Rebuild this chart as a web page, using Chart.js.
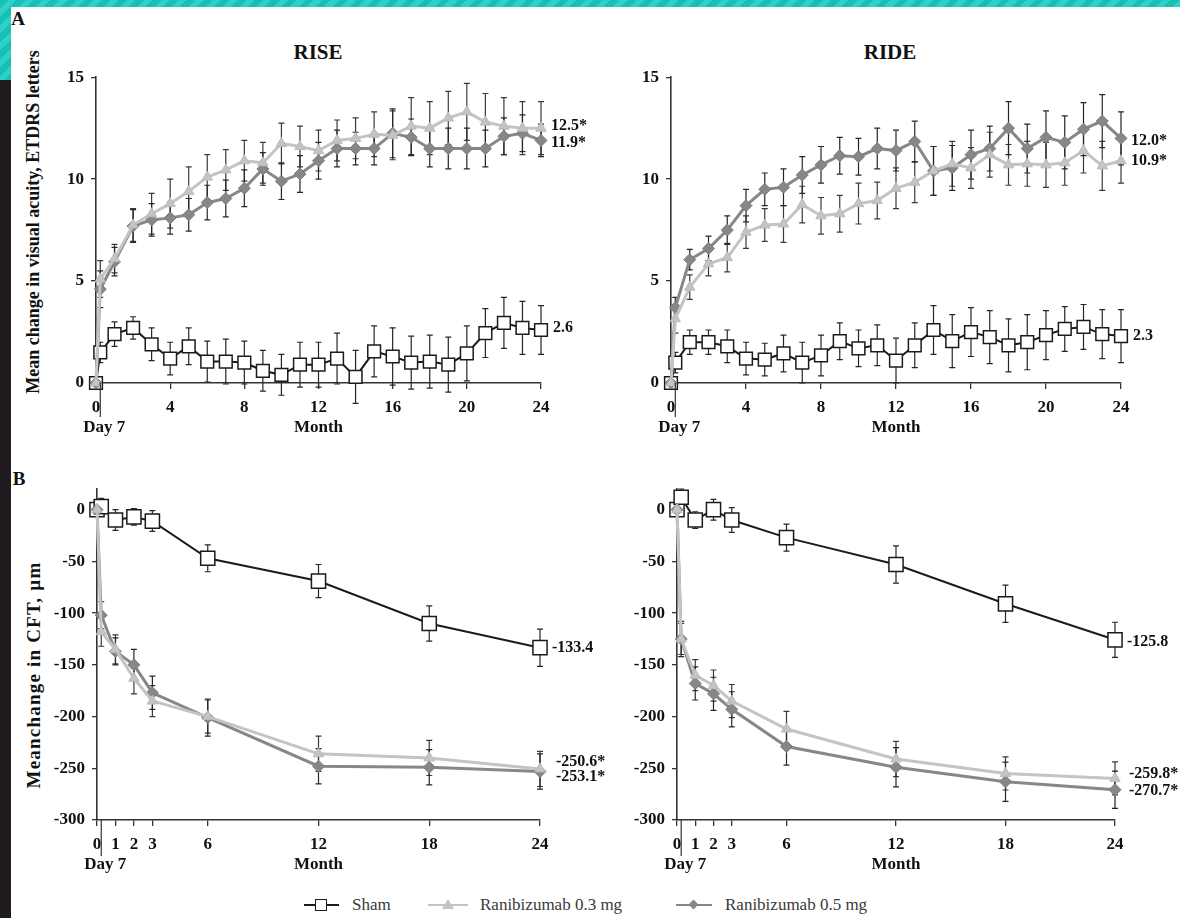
<!DOCTYPE html>
<html><head><meta charset="utf-8">
<script src="https://cdn.jsdelivr.net/npm/chart.js@4.4.1/dist/chart.umd.min.js"></script>
<style>
html,body{margin:0;padding:0;}
body{width:1180px;height:918px;position:relative;overflow:hidden;background:#fff;font-family:"Liberation Serif","DejaVu Serif",serif;}
#topband{position:absolute;left:0;top:0;width:1180px;height:7px;background:repeating-linear-gradient(135deg,#17c0b6 0 6px,#2fd0c7 6px 12px);}
#leftteal{position:absolute;left:0;top:0;width:11px;height:80px;background:repeating-linear-gradient(135deg,#17c0b6 0 6px,#2fd0c7 6px 12px);}
#leftdark{position:absolute;left:0;top:80px;width:11px;height:838px;background:#1f1b1e;}
canvas{position:absolute;}
.t{position:absolute;font-weight:bold;color:#111;white-space:nowrap;transform:translate(-50%,-50%);}
.yt{position:absolute;font-weight:bold;color:#111;white-space:nowrap;transform:translate(-50%,-50%) rotate(-90deg);}
.leg{position:absolute;top:905px;font-size:17px;color:#3a3a3a;transform:translateY(-50%);white-space:nowrap;}
.lline{position:absolute;height:0;}
</style></head>
<body>
<div id="topband"></div><div id="leftteal"></div><div id="leftdark"></div>
<div class="t" style="left:18px;top:19px;font-size:19px;">A</div>
<div class="t" style="left:19px;top:479px;font-size:19px;">B</div>
<div class="t" style="left:318px;top:52px;font-size:21px;">RISE</div>
<div class="t" style="left:890px;top:52px;font-size:21px;">RIDE</div>
<div class="yt" style="left:33px;top:222px;font-size:18px;">Mean change in visual acuity, ETDRS letters</div>
<div class="yt" style="left:34px;top:675px;font-size:19px;letter-spacing:1.2px;">Meanchange in CFT, µm</div>

<canvas id="cA1" width="590" height="380" style="left:40px;top:60px;"></canvas>
<canvas id="cA2" width="580" height="380" style="left:600px;top:60px;"></canvas>
<canvas id="cB1" width="590" height="410" style="left:40px;top:470px;"></canvas>
<canvas id="cB2" width="580" height="410" style="left:600px;top:470px;"></canvas>

<!-- legend -->
<div class="lline" style="left:304px;top:904px;width:35px;border-top:2px solid #1b1b1b;"></div>
<div style="position:absolute;left:315px;top:899px;width:10px;height:10px;border:1.5px solid #1b1b1b;background:#fff;"></div>
<div class="leg" style="left:352px;">Sham</div>
<div class="lline" style="left:428px;top:904px;width:40px;border-top:2.5px solid #c4c4c4;"></div>
<div style="position:absolute;left:442px;top:899px;width:0;height:0;border-left:6px solid transparent;border-right:6px solid transparent;border-bottom:10px solid #c4c4c4;"></div>
<div class="leg" style="left:480px;">Ranibizumab 0.3 mg</div>
<div class="lline" style="left:676px;top:904px;width:36px;border-top:2.5px solid #878787;"></div>
<div style="position:absolute;left:690px;top:901px;width:7px;height:7px;background:#878787;transform:rotate(45deg);"></div>
<div class="leg" style="left:725px;">Ranibizumab 0.5 mg</div>

<script>
// ---------- DATA ----------
const dayX = 0.23; // Day 7 expressed in months
const monthsA = [0, 0.23, 1, 2, 3, 4, 5, 6, 7, 8, 9, 10, 11, 12, 13, 14, 15, 16, 17, 18, 19, 20, 21, 22, 23, 24];
const monthsB = [0, 0.23, 1, 2, 3, 6, 12, 18, 24];
const xTicksA = [0, 4, 8, 12, 16, 20, 24];
const xTicksB = [0, 1, 2, 3, 6, 12, 18, 24];
const yTicksA = [0, 5, 10, 15];
const yTicksB = [0, -50, -100, -150, -200, -250, -300];

// Panel A: mean change in BCVA (letters)
const riseA_sham    = [0, 1.5, 2.4, 2.7, 1.9, 1.2, 1.8, 1.05, 1.05, 1.0, 0.6, 0.4, 0.9, 0.9, 1.2, 0.3, 1.55, 1.3, 1.0, 1.05, 0.9, 1.45, 2.45, 2.95, 2.7, 2.6];
const riseA_sham_se = [0, 0.5, 0.6, 0.55, 0.8, 0.8, 0.9, 1.0, 1.1, 1.05, 1.0, 1.0, 1.1, 1.1, 1.25, 1.3, 1.25, 1.4, 1.3, 1.3, 1.35, 1.35, 1.2, 1.25, 1.3, 1.2];
const riseA_r03     = [0, 5.1, 6.1, 7.75, 8.3, 8.8, 9.4, 10.1, 10.45, 10.9, 10.8, 11.75, 11.6, 11.4, 11.9, 12.0, 12.2, 12.15, 12.6, 12.5, 13.0, 13.3, 12.8, 12.6, 12.5, 12.5];
const riseA_r03_se  = [0, 0.9, 0.7, 0.8, 1.0, 1.2, 1.2, 1.1, 1.0, 1.0, 1.0, 1.0, 1.0, 1.0, 1.0, 1.0, 1.1, 1.2, 1.4, 1.3, 1.3, 1.4, 1.4, 1.4, 1.3, 1.3];
const riseA_r05     = [0, 4.6, 5.95, 7.7, 8.0, 8.1, 8.25, 8.85, 9.05, 9.55, 10.5, 9.9, 10.25, 10.9, 11.5, 11.5, 11.5, 12.25, 12.05, 11.5, 11.5, 11.5, 11.5, 12.1, 12.25, 11.9];
const riseA_r05_se  = [0, 0.9, 0.7, 0.8, 0.8, 0.8, 0.8, 0.85, 0.9, 0.9, 0.8, 0.9, 0.9, 0.9, 0.9, 0.8, 0.8, 1.2, 0.9, 0.9, 1.0, 1.0, 0.9, 0.9, 0.9, 0.8];

const rideA_sham    = [0, 1.0, 2.0, 2.0, 1.8, 1.2, 1.15, 1.45, 1.0, 1.35, 2.05, 1.7, 1.85, 1.1, 1.85, 2.6, 2.05, 2.5, 2.25, 1.85, 2.0, 2.35, 2.65, 2.75, 2.4, 2.3];
const rideA_sham_se = [0, 0.5, 0.6, 0.6, 0.8, 0.8, 0.8, 0.9, 1.0, 1.0, 0.9, 0.9, 1.0, 1.1, 1.1, 1.2, 1.3, 1.2, 1.3, 1.3, 1.35, 1.2, 1.1, 1.1, 1.2, 1.3];
const rideA_r03     = [0, 3.15, 4.7, 5.85, 6.15, 7.4, 7.75, 7.8, 8.75, 8.2, 8.3, 8.8, 8.95, 9.55, 9.85, 10.4, 10.75, 10.55, 11.2, 10.7, 10.75, 10.7, 10.8, 11.4, 10.65, 10.9];
const rideA_r03_se  = [0, 0.7, 0.6, 0.6, 0.7, 0.8, 0.8, 0.9, 0.9, 0.9, 0.9, 1.0, 0.9, 1.0, 1.0, 1.2, 1.1, 1.0, 1.1, 1.0, 1.1, 1.1, 1.1, 1.1, 1.2, 1.1];
const rideA_r05     = [0, 3.7, 6.05, 6.6, 7.5, 8.7, 9.5, 9.6, 10.2, 10.7, 11.15, 11.1, 11.5, 11.4, 11.85, 10.4, 10.55, 11.2, 11.5, 12.5, 11.5, 12.05, 11.8, 12.45, 12.85, 12.0];
const rideA_r05_se  = [0, 0.5, 0.5, 0.6, 0.7, 0.8, 0.8, 0.9, 0.9, 0.9, 0.9, 0.9, 1.0, 1.0, 1.0, 1.2, 1.1, 1.2, 1.1, 1.3, 1.2, 1.3, 1.3, 1.3, 1.3, 1.3];

// Panel B: mean change in CFT (µm)
const riseB_sham    = [0, 3, -10, -7, -11, -47, -69, -110, -133.4];
const riseB_sham_se = [0, 8, 10, 8, 10, 13, 16, 17, 18];
const riseB_r03     = [0, -118, -135, -163, -185, -200, -236, -240, -250.6];
const riseB_r03_se  = [0, 14, 14, 15, 15, 16, 17, 17, 17];
const riseB_r05     = [0, -102, -137, -150, -177, -201, -248, -249, -253.1];
const riseB_r05_se  = [0, 13, 13, 15, 16, 18, 17, 17, 17];

const rideB_sham    = [0, 12, -10, 0, -10, -27, -53, -91, -125.8];
const rideB_sham_se = [0, 8, 8, 10, 12, 13, 18, 18, 17];
const rideB_r03     = [0, -125, -160, -170, -185, -212, -241, -255, -259.8];
const rideB_r03_se  = [0, 15, 15, 15, 16, 17, 17, 16, 16];
const rideB_r05     = [0, -125, -168, -178, -193, -229, -249, -263, -270.7];
const rideB_r05_se  = [0, 17, 16, 16, 17, 18, 19, 19, 18];

// End-of-study labels
const riseA_labels = ['2.6', '12.5*', '11.9*'];
const rideA_labels = ['2.3', '10.9*', '12.0*'];
const riseB_labels = ['-133.4', '-250.6*', '-253.1*'];
const rideB_labels = ['-125.8', '-259.8*', '-270.7*'];
const seriesNames = ['Sham', 'Ranibizumab 0.3 mg', 'Ranibizumab 0.5 mg'];

// ---------- STYLE ----------
const FONT = '"Liberation Serif", "DejaVu Serif", serif';
const STYLE = {
  sham: {line:'#1b1b1b', width:2, point:'rect', radius:9, fill:'#ffffff', pb:'#1b1b1b', pbw:1.5, err:'#262626', order:3},
  r03:  {line:'#c4c4c4', width:3, point:'triangle', radius:6, fill:'#c4c4c4', pb:'#bababa', pbw:1, err:'#3a3a3a', order:1},
  r05:  {line:'#878787', width:3, point:'rectRot', radius:6, fill:'#878787', pb:'#7c7c7c', pbw:1, err:'#262626', order:2}
};

const errPlugin = {
  id: 'errbars',
  beforeDatasetsDraw(chart) {
    const ctx = chart.ctx, ys = chart.scales.y;
    chart.data.datasets.forEach((ds, i) => {
      const meta = chart.getDatasetMeta(i);
      ctx.save();
      ctx.strokeStyle = ds.errColor; ctx.lineWidth = 1.2;
      ds.data.forEach((p, j) => {
        const se = ds.se[j];
        if (!se) return;
        const x = meta.data[j].x;
        const y1 = ys.getPixelForValue(p.y + se), y2 = ys.getPixelForValue(p.y - se);
        ctx.beginPath();
        ctx.moveTo(x, y1); ctx.lineTo(x, y2);
        ctx.moveTo(x - 3, y1); ctx.lineTo(x + 3, y1);
        ctx.moveTo(x - 3, y2); ctx.lineTo(x + 3, y2);
        ctx.stroke();
      });
      ctx.restore();
    });
  },
  afterDraw(chart) {
    const o = chart.options.plugins.extra;
    const ctx = chart.ctx, xs = chart.scales.x, ys = chart.scales.y, ca = chart.chartArea;
    ctx.save();
    // end labels
    ctx.font = 'bold 16px ' + FONT; ctx.fillStyle = '#111'; ctx.textBaseline = 'middle'; ctx.textAlign = 'left';
    chart.data.datasets.forEach((ds, i) => {
      const n = ds.data.length - 1;
      const p = ds.data[n];
      ctx.fillText(ds.endLabel, xs.getPixelForValue(p.x) + ds.labelDx, ys.getPixelForValue(p.y) + ds.labelDy);
    });
    // Day 7 tick and axis captions
    const dx = xs.getPixelForValue(dayX);
    ctx.strokeStyle = '#333'; ctx.lineWidth = 1.2;
    ctx.beginPath(); ctx.moveTo(dx, ca.bottom); ctx.lineTo(dx, ca.bottom + o.dayLine); ctx.stroke();
    ctx.font = 'bold 17px ' + FONT; ctx.textAlign = 'center';
    ctx.fillText('Day 7', dx + 4, ca.bottom + o.capY);
    ctx.fillText('Month', (ca.left + ca.right) / 2, ca.bottom + o.capY);
    ctx.restore();
  }
};

function makeChart(id, months, sets, labels, o) {
  const kinds = ['sham', 'r03', 'r05'];
  const datasets = sets.map((s, i) => {
    const st = STYLE[kinds[i]];
    return {
      label: seriesNames[i],
      data: months.map((m, j) => ({x: m, y: s[0][j]})),
      se: s[1],
      errColor: st.err,
      endLabel: labels[i],
      labelDx: o.labelDx[i],
      labelDy: o.labelDy[i],
      borderColor: st.line, borderWidth: st.width,
      pointStyle: st.point, pointRadius: (kinds[i] === 'sham' ? o.sq : st.radius),
      pointBackgroundColor: st.fill, pointBorderColor: st.pb, pointBorderWidth: st.pbw,
      tension: 0, clip: false, order: st.order
    };
  });
  const tickFont = {family: FONT, size: 17, weight: 'bold'};
  return new Chart(document.getElementById(id), {
    type: 'line',
    data: {datasets},
    plugins: [errPlugin],
    options: {
      responsive: false, animation: false, devicePixelRatio: 1,
      layout: {padding: {left: 0, top: o.pt, right: o.pr, bottom: 0}},
      plugins: {legend: {display: false}, tooltip: {enabled: false}, extra: {dayLine: o.dayLine, capY: o.capY}},
      scales: {
        x: {
          type: 'linear', min: 0, max: 24,
          afterBuildTicks: s => { s.ticks = o.xTicks.map(v => ({value: v})); },
          afterFit: s => { s.height = o.xh; },
          grid: {drawOnChartArea: false, drawTicks: true, tickLength: 6, color: '#333', lineWidth: 1.3},
          border: {color: '#333', width: 1.6},
          ticks: {font: tickFont, color: '#111', padding: o.xpad, maxRotation: 0, autoSkip: false}
        },
        y: {
          type: 'linear', min: o.yMin, max: o.yMax,
          afterBuildTicks: s => { s.ticks = o.yTicks.map(v => ({value: v})); },
          afterFit: s => { s.width = o.yw; },
          grid: {drawOnChartArea: false, drawTicks: true, tickLength: 5, color: '#333', lineWidth: 1.3},
          border: {color: '#333', width: 1.6},
          ticks: {font: tickFont, color: '#111', padding: 7}
        }
      }
    }
  });
}

makeChart('cA1', monthsA,
  [[riseA_sham, riseA_sham_se], [riseA_r03, riseA_r03_se], [riseA_r05, riseA_r05_se]],
  riseA_labels,
  {xTicks: xTicksA, yTicks: yTicksA, yMin: 0, yMax: 15, yw: 56, pt: 17, pr: 89, xh: 57, xpad: 8,
   sq: 9, labelDx: [12, 10, 10], labelDy: [-2, -2, 2], dayLine: 34, capY: 45});
makeChart('cA2', monthsA,
  [[rideA_sham, rideA_sham_se], [rideA_r03, rideA_r03_se], [rideA_r05, rideA_r05_se]],
  rideA_labels,
  {xTicks: xTicksA, yTicks: yTicksA, yMin: 0, yMax: 15, yw: 71, pt: 16, pr: 59, xh: 57, xpad: 8,
   sq: 9, labelDx: [12, 10, 10], labelDy: [0, 0, 2], dayLine: 34, capY: 45});
makeChart('cB1', monthsB,
  [[riseB_sham, riseB_sham_se], [riseB_r03, riseB_r03_se], [riseB_r05, riseB_r05_se]],
  riseB_labels,
  {xTicks: xTicksB, yTicks: yTicksB, yMin: -300, yMax: 20, yw: 57, pt: 19, pr: 90, xh: 60, xpad: 8,
   sq: 10, labelDx: [12, 16, 16], labelDy: [0, -7, 5], dayLine: 36, capY: 45});
makeChart('cB2', monthsB,
  [[rideB_sham, rideB_sham_se], [rideB_r03, rideB_r03_se], [rideB_r05, rideB_r05_se]],
  rideB_labels,
  {xTicks: xTicksB, yTicks: yTicksB, yMin: -300, yMax: 20, yw: 77, pt: 19, pr: 65, xh: 60, xpad: 8,
   sq: 10, labelDx: [12, 14, 14], labelDy: [2, -5, 1], dayLine: 36, capY: 45});
</script>
</body></html>
